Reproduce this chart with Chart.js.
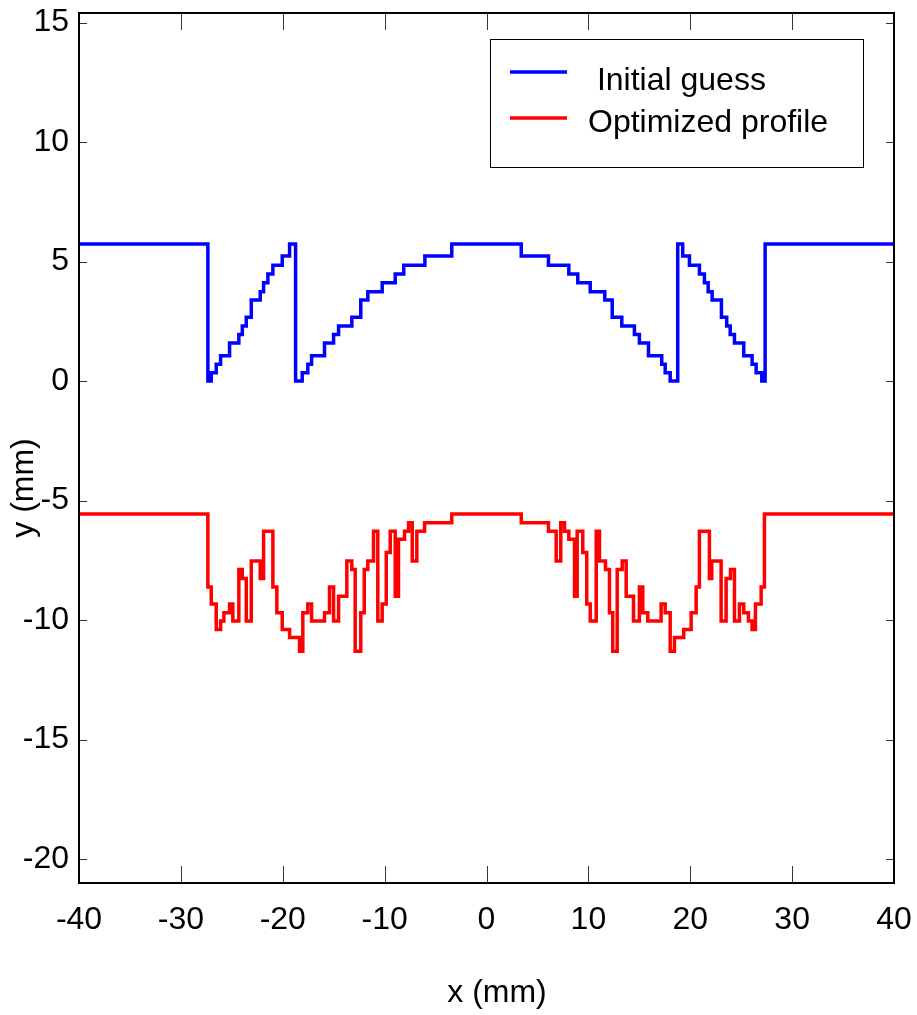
<!DOCTYPE html>
<html>
<head>
<meta charset="utf-8">
<script src="https://cdn.jsdelivr.net/npm/chart.js@4.4.1/dist/chart.umd.min.js"></script>
<style>
  html, body { margin: 0; padding: 0; background: #fff; }
</style>
</head>
<body>
<canvas id="profileChart" width="917" height="1015"></canvas>
<script>
// step edges (mm) and the height the profile takes from that edge on
const initialX = [-40, -27.35, -27.02, -26.53, -26.10, -25.22, -24.31, -23.97, -23.58, -23.09,
  -22.21, -21.88, -21.46, -20.97, -20.05, -19.33, -18.74, -18.09, -17.54, -17.17,
  -15.90, -15.01, -14.52, -13.22, -12.34, -11.65, -10.24, -8.96, -8.12, -6.05,
  -3.41, 3.41, 6.08, 8.08, 8.96, 10.18, 11.61, 12.34, 13.28, 14.52,
  15.01, 15.90, 17.20, 17.54, 18.03, 18.77, 19.26, 19.92, 20.90, 21.39,
  21.76, 22.15, 23.06, 23.58, 23.92, 24.34, 25.25, 26.07, 26.47, 27.02, 27.35, 40];
const initialY = [5.73, 0, 0.35, 0.70, 1.06, 1.59, 1.95, 2.30, 2.67, 3.39,
  3.74, 4.11, 4.48, 4.85, 5.23, 5.73, 0, 0.35, 0.70, 1.06,
  1.59, 1.95, 2.30, 2.67, 3.39, 3.74, 4.11, 4.48, 4.85, 5.23,
  5.73, 5.23, 4.85, 4.48, 4.11, 3.74, 3.39, 2.67, 2.30, 1.95,
  1.59, 1.06, 0.70, 0.35, 0, 5.73, 5.23, 4.85, 4.48, 4.11,
  3.74, 3.39, 2.67, 2.30, 1.95, 1.59, 1.06, 0.70, 0.35, 0, 5.73, 5.73];

const optimizedX = [-40, -27.35, -27.02, -26.53, -26.10, -25.78, -25.22, -24.90, -24.31, -23.97,
  -23.58, -23.09, -22.21, -21.88, -20.97, -20.58, -20.05, -19.33, -18.35, -18.03,
  -17.54, -17.17, -15.90, -15.41, -15.01, -14.52, -13.71, -13.22, -12.89, -12.34,
  -12.00, -11.65, -11.09, -10.67, -10.24, -9.84, -9.45, -8.96, -8.64, -8.05,
  -7.65, -7.29, -6.84, -6.08, -3.41,
  3.41, 6.08, 6.84, 7.29, 7.65, 8.08, 8.64, 8.90, 9.45, 9.84,
  10.18, 10.77, 11.09, 11.68, 12.07, 12.39, 12.83, 13.32, 13.71, 14.43,
  15.01, 15.34, 15.83, 17.14, 17.54, 18.03, 18.45, 19.36, 20.09, 20.58,
  20.90, 21.88, 22.11, 23.03, 23.52, 23.95, 24.34, 24.83, 25.25, 25.71,
  26.07, 26.40, 26.96, 27.28, 40];
const optimizedY = [-5.56, -8.62, -9.33, -10.39, -10.04, -9.69, -9.33, -10.04, -7.88, -8.26,
  -10.04, -7.53, -8.26, -6.28, -8.62, -9.69, -10.39, -10.73, -11.30, -9.69,
  -9.33, -10.04, -9.69, -8.62, -10.04, -9.00, -7.53, -7.88, -11.30, -9.69,
  -7.88, -7.53, -6.28, -10.04, -9.33, -7.17, -6.28, -9.00, -6.62, -6.28,
  -5.93, -7.53, -6.28, -5.93, -5.56,
  -5.93, -6.28, -7.53, -5.93, -6.28, -6.62, -9.00, -6.28, -7.17, -9.33,
  -10.04, -6.28, -7.53, -7.88, -9.69, -11.30, -7.88, -7.53, -9.00, -10.04,
  -8.62, -9.69, -10.04, -9.33, -9.69, -11.30, -10.73, -10.39, -9.69, -8.62,
  -6.28, -8.26, -7.53, -10.04, -8.26, -7.88, -10.04, -9.33, -9.69, -10.04,
  -10.39, -9.33, -8.62, -5.56, -5.56];

const xTicks = [-40, -30, -20, -10, 0, 10, 20, 30, 40];
const yTicks = [15, 10, 5, 0, -5, -10, -15, -20];
const seriesLabels = [' Initial guess', 'Optimized profile'];
const xTitle = 'x (mm)';
const yTitle = 'y (mm)';

const FONT = '"Liberation Sans", Arial, sans-serif';

function toPoints(xs, ys) {
    return xs.map((x, i) => ({ x: x, y: ys[i] }));
}

// frame, inward ticks, axis titles and the boxed legend
const decorations = {
    id: 'decorations',
    afterDraw(chart) {
        const ctx = chart.ctx;
        const a = chart.chartArea;
        const xs = chart.scales.x;
        const ys = chart.scales.y;
        ctx.save();

        // ticks
        ctx.strokeStyle = '#333';
        ctx.lineWidth = 1;
        ctx.beginPath();
        xs.ticks.forEach(t => {
            const px = Math.round(xs.getPixelForValue(t.value)) + 0.5;
            ctx.moveTo(px, a.bottom); ctx.lineTo(px, a.bottom - 17);
            ctx.moveTo(px, a.top); ctx.lineTo(px, a.top + 17);
        });
        ys.ticks.forEach(t => {
            const py = Math.round(ys.getPixelForValue(t.value)) + 0.5;
            ctx.moveTo(a.left, py); ctx.lineTo(a.left + 8, py);
            ctx.moveTo(a.right, py); ctx.lineTo(a.right - 8, py);
        });
        ctx.stroke();

        // frame
        ctx.strokeStyle = '#000';
        ctx.lineWidth = 2;
        ctx.strokeRect(a.left, a.top, a.right - a.left, a.bottom - a.top);

        // axis titles
        ctx.fillStyle = '#000';
        ctx.font = '32px ' + FONT;
        ctx.textAlign = 'center';
        ctx.textBaseline = 'alphabetic';
        ctx.fillText(xTitle, 497, 1002);
        ctx.save();
        ctx.translate(33, 488);
        ctx.rotate(-Math.PI / 2);
        ctx.fillText(yTitle, 0, 0);
        ctx.restore();

        // legend
        ctx.fillStyle = '#fff';
        ctx.fillRect(490, 39, 373, 128);
        ctx.strokeStyle = '#000';
        ctx.lineWidth = 1;
        ctx.strokeRect(490.5, 39.5, 373, 128);
        const rows = [{ line: 72, base: 90 }, { line: 118, base: 132 }];
        chart.data.datasets.forEach((ds, i) => {
            ctx.strokeStyle = ds.borderColor;
            ctx.lineWidth = 3.5;
            ctx.beginPath();
            ctx.moveTo(510, rows[i].line);
            ctx.lineTo(567, rows[i].line);
            ctx.stroke();
            ctx.fillStyle = '#000';
            ctx.textAlign = 'left';
            ctx.fillText(ds.label, 588, rows[i].base);
        });
        ctx.restore();
    }
};

new Chart(document.getElementById('profileChart'), {
    type: 'line',
    data: {
        datasets: [{
            label: seriesLabels[0],
            data: toPoints(initialX, initialY),
            borderColor: '#0000ff',
            borderWidth: 3.5,
            stepped: true,
            pointRadius: 0,
            fill: false,
            borderJoinStyle: 'miter'
        }, {
            label: seriesLabels[1],
            data: toPoints(optimizedX, optimizedY),
            borderColor: '#ff0000',
            borderWidth: 3.5,
            stepped: true,
            pointRadius: 0,
            fill: false,
            borderJoinStyle: 'miter'
        }]
    },
    options: {
        responsive: false,
        animation: false,
        devicePixelRatio: 1,
        layout: { padding: { top: 13, right: 23, left: 0, bottom: 0 } },
        plugins: {
            legend: { display: false },
            tooltip: { enabled: false }
        },
        scales: {
            x: {
                type: 'linear',
                min: -40,
                max: 40,
                grid: { display: false, drawTicks: false },
                border: { display: false },
                ticks: { color: '#000', font: { size: 32, family: FONT }, padding: 18, maxRotation: 0 },
                afterBuildTicks: s => { s.ticks = xTicks.map(v => ({ value: v })); },
                afterFit: s => { s.height = 132; s.paddingLeft = 0; s.paddingRight = 0; }
            },
            y: {
                type: 'linear',
                min: -21,
                max: 15.4,
                grid: { display: false, drawTicks: false },
                border: { display: false },
                ticks: { color: '#000', font: { size: 32, family: FONT }, padding: 10 },
                afterBuildTicks: s => { s.ticks = yTicks.map(v => ({ value: v })); },
                afterFit: s => { s.width = 79; s.paddingTop = 0; s.paddingBottom = 0; }
            }
        }
    },
    plugins: [decorations]
});
</script>
</body>
</html>
